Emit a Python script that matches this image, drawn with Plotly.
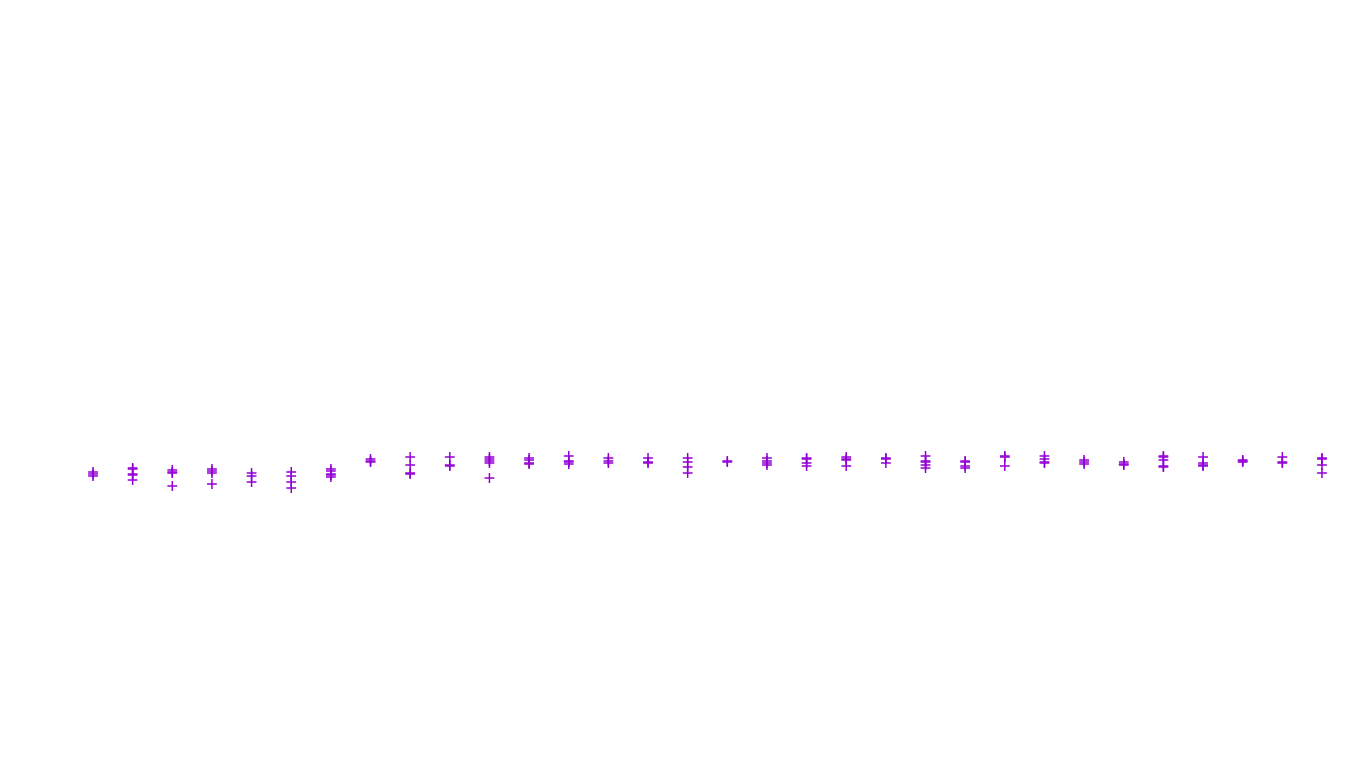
import plotly.graph_objects as go

# Category positions (32 groups, unlabeled in the reference)
categories = list(range(1, 33))

# Measured values for each category (several replicate points per group)
values = [
    [2.96, 2.94, 2.92],
    [3.00, 2.99, 2.94, 2.93, 2.88],
    [2.98, 2.96, 2.95, 2.82],
    [2.99, 2.97, 2.95, 2.84],
    [2.95, 2.92, 2.86],
    [2.96, 2.92, 2.86, 2.80],
    [2.99, 2.97, 2.94, 2.93, 2.91],
    [3.09, 3.07, 3.06],
    [3.11, 3.03, 2.95, 2.94],
    [3.11, 3.03, 3.02],
    [3.11, 3.09, 3.07, 3.05, 2.90],
    [3.10, 3.08, 3.05, 3.04],
    [3.12, 3.07, 3.06, 3.04],
    [3.10, 3.07, 3.05],
    [3.10, 3.06, 3.05],
    [3.10, 3.06, 3.01, 2.95],
    [3.07, 3.06],
    [3.10, 3.07, 3.05, 3.03],
    [3.10, 3.09, 3.05, 3.02],
    [3.11, 3.09, 3.08, 3.02],
    [3.10, 3.09, 3.05],
    [3.12, 3.07, 3.06, 3.03, 3.00],
    [3.07, 3.06, 3.02, 3.00],
    [3.12, 3.11, 3.02],
    [3.12, 3.09, 3.06, 3.05],
    [3.08, 3.06, 3.04],
    [3.06, 3.04, 3.03],
    [3.12, 3.11, 3.08, 3.02, 3.01],
    [3.11, 3.05, 3.03, 3.02],
    [3.08, 3.07, 3.06],
    [3.11, 3.06, 3.05],
    [3.10, 3.09, 3.03, 2.95],
]

xs, ys = [], []
for cat, vals in zip(categories, values):
    for v in vals:
        xs.append(cat)
        ys.append(v)

fig = go.Figure(
    go.Scatter(
        x=xs,
        y=ys,
        mode="markers",
        marker=dict(
            symbol="cross-thin",
            size=7,
            color="#9400D3",
            line=dict(color="#9400D3", width=1.5),
        ),
        showlegend=False,
    )
)

fig.update_layout(
    width=1360,
    height=768,
    margin=dict(l=0, r=0, t=0, b=0),
    paper_bgcolor="white",
    plot_bgcolor="white",
    xaxis=dict(visible=False, range=[-1.346, 32.959]),
    yaxis=dict(visible=False, range=[0, 7.68]),
)

fig.write_html("out.html")
